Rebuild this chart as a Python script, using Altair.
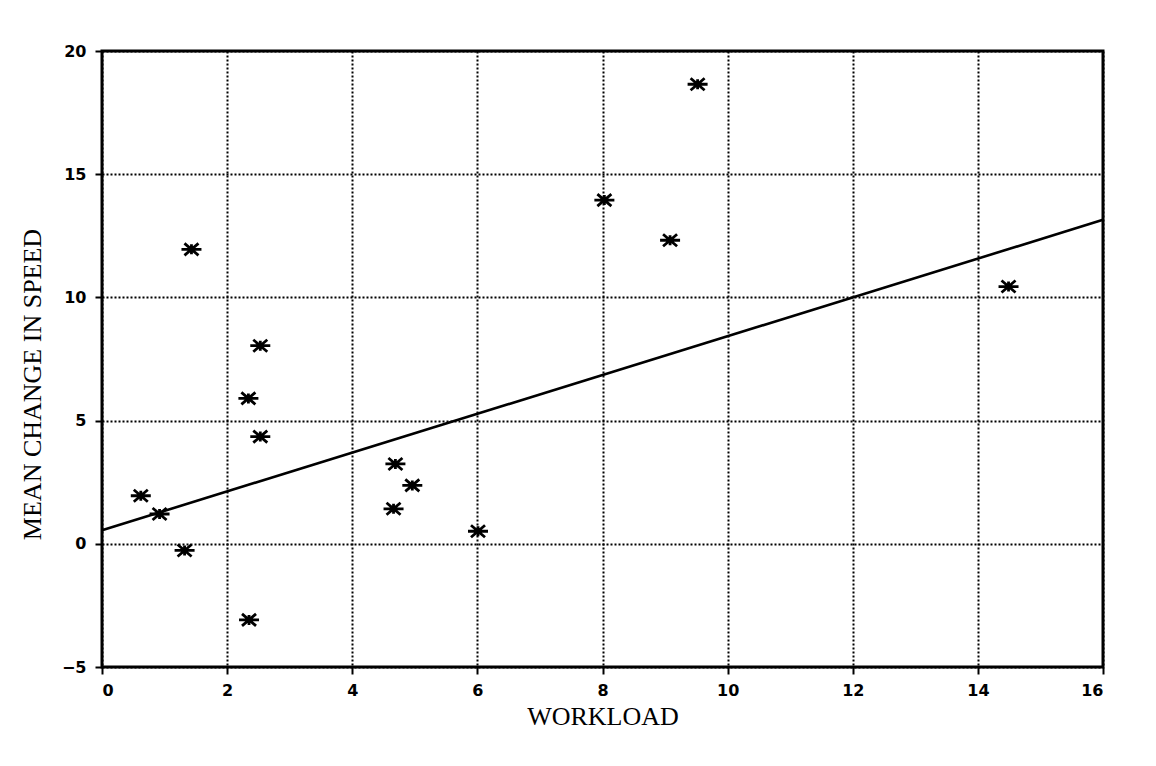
import altair as alt
import pandas as pd

# Scatter data
workload = [0.62, 0.92, 1.32, 1.43, 2.35, 2.34, 2.53, 2.53, 4.66, 4.69, 4.96, 6.01, 8.03, 9.08, 9.52, 14.49]
speed = [1.95, 1.21, -0.27, 11.95, -3.09, 5.90, 8.04, 4.35, 1.42, 3.24, 2.37, 0.51, 13.95, 12.32, 18.65, 10.44]

# Fitted line end points
fit_x = [0, 16]
fit_y = [0.55, 13.15]

x_ticks = [0, 2, 4, 6, 8, 10, 12, 14, 16]
y_ticks = [-5, 0, 5, 10, 15, 20]

pts = pd.DataFrame({"workload": workload, "speed": speed})
fit = pd.DataFrame({"workload": fit_x, "speed": fit_y})

star = "M-1,0L1,0M-0.7,-0.6L0.7,0.6M-0.7,0.6L0.7,-0.6M0,-0.5L0,0.5"

x_axis = alt.Axis(
    values=x_ticks, format="d", grid=True, gridColor="black", gridDash=[2, 2],
    gridWidth=2, gridOpacity=1, domain=False, ticks=True, tickColor="black",
    tickSize=7, tickWidth=2, labelFont="DejaVu Sans", labelFontWeight="bold",
    labelFontSize=16, labelColor="black", labelPadding=8,
    title="WORKLOAD", titleFont="Liberation Serif", titleFontSize=26,
    titleFontWeight="normal", titleColor="black", titleBaseline="alphabetic",
    titleY=57,
)
y_axis = alt.Axis(
    values=y_ticks, format="d", grid=True, gridColor="black", gridDash=[2, 2],
    gridWidth=2, gridOpacity=1, domain=False, ticks=True, tickColor="black",
    tickSize=7, tickWidth=2, labelFont="DejaVu Sans", labelFontWeight="bold",
    labelFontSize=16, labelColor="black", labelPadding=9,
    title="MEAN CHANGE IN SPEED", titleFont="Liberation Serif", titleFontSize=26,
    titleFontWeight="normal", titleColor="black", titleAngle=-90,
    titleBaseline="middle", titleAlign="center", titleX=-70, titleY=333,
)

xs = alt.Scale(domain=[0, 16], nice=False, zero=False)
ys = alt.Scale(domain=[-5, 20], nice=False, zero=False)

points = alt.Chart(pts).mark_point(
    shape=star, size=400, filled=False, stroke="black", strokeWidth=2.8, opacity=1
).encode(
    x=alt.X("workload:Q", scale=xs, axis=x_axis),
    y=alt.Y("speed:Q", scale=ys, axis=y_axis),
)

line = alt.Chart(fit).mark_line(color="black", strokeWidth=2.6).encode(
    x=alt.X("workload:Q", scale=xs),
    y=alt.Y("speed:Q", scale=ys),
)

chart = alt.layer(line, points).properties(
    width=1001, height=616,
    autosize=alt.AutoSizeParams(type="none"),
    padding={"left": 94, "top": 43, "right": 45, "bottom": 91},
    background="white",
).configure_view(stroke="black", strokeWidth=3)

chart.save("out.html", embed_options={"renderer": "svg", "actions": False})
